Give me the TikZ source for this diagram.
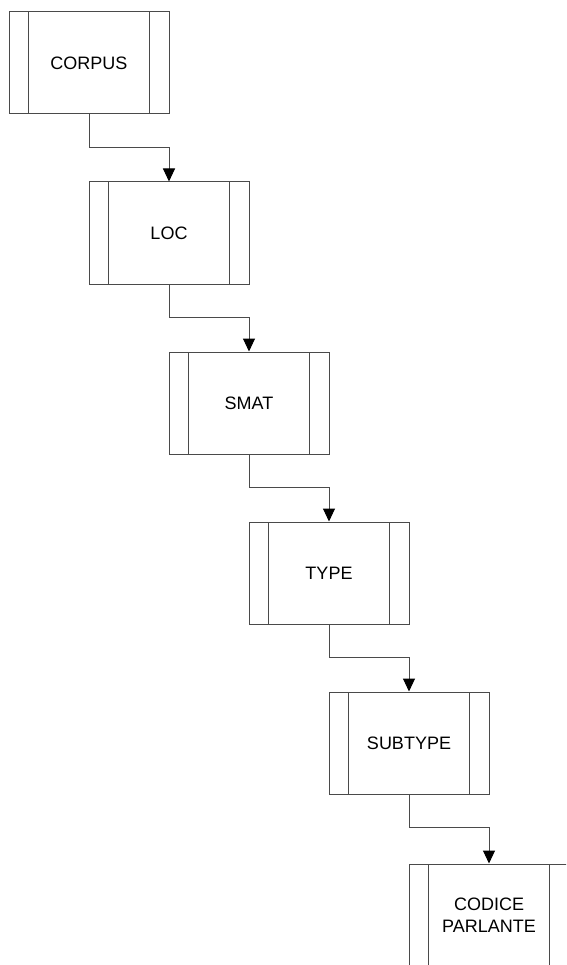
\documentclass[tikz,border=0pt]{standalone}
\usepackage{fontspec}
\setmainfont{Liberation Sans}
\usetikzlibrary{arrows.meta}
\definecolor{edge}{HTML}{4A4A4A}
\tikzset{
  procbox/.style={draw=edge, line width=1pt, rectangle, minimum width=160pt,
    minimum height=102pt, inner sep=0pt, align=center,
    font=\fontsize{18}{21.5}\selectfont,
    path picture={
      \draw[edge, line width=1pt]
        ([xshift=19.5pt]path picture bounding box.north west) --
        ([xshift=19.5pt]path picture bounding box.south west);
      \draw[edge, line width=1pt]
        ([xshift=-19.5pt]path picture bounding box.north east) --
        ([xshift=-19.5pt]path picture bounding box.south east);
    }},
  flow/.style={draw=edge, line width=1pt,
    -{Triangle[width=12pt,length=13pt,color=black,fill=black]}}
}
\begin{document}
\begin{tikzpicture}[x=1pt, y=-1pt]
  \useasboundingbox (0,0) rectangle (566,965);
  \clip (0,0) rectangle (566,965);
  \node[procbox] (corpus)  at (89,63)   {CORPUS};
  \node[procbox] (loc)     at (169,233) {LOC};
  \node[procbox] (smat)    at (249,403) {SMAT};
  \node[procbox] (type)    at (329,573) {TYPE};
  \node[procbox] (subtype) at (409,743) {SUBTYPE};
  \node[procbox] (codice)  at (489,915) {CODICE\\PARLANTE};
  \draw[flow] (corpus.south)  -- ++(0,33) -| (loc.north);
  \draw[flow] (loc.south)     -- ++(0,33) -| (smat.north);
  \draw[flow] (smat.south)    -- ++(0,33) -| (type.north);
  \draw[flow] (type.south)    -- ++(0,33) -| (subtype.north);
  \draw[flow] (subtype.south) -- ++(0,33) -| (codice.north);
\end{tikzpicture}
\end{document}
